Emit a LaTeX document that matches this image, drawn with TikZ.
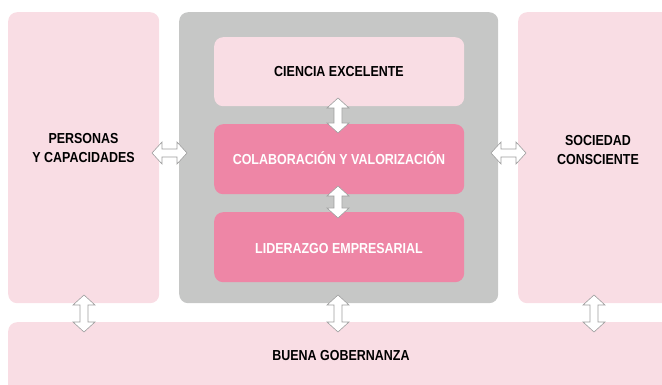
\documentclass[tikz,border=0pt]{standalone}
\usepackage{fontspec}
\setmainfont{Liberation Sans}[FakeStretch=0.86]
\definecolor{lpink}{HTML}{F9DDE4}
\definecolor{mpink}{HTML}{EE86A6}
\definecolor{cgray}{HTML}{C6C7C6}
\definecolor{agray}{HTML}{9E9E9E}
\tikzset{
  box/.style={rectangle, rounded corners=9pt, anchor=north west, inner sep=0pt},
  lbox/.style={box, fill=lpink},
  gbox/.style={box, fill=cgray},
  pbox/.style={box, fill=mpink},
  lbl/.style={font=\bfseries\fontsize{14.5}{18.5}\selectfont, align=center, text=black},
  wlbl/.style={lbl, text=white},
  pics/dblarrow/.style={code={
    \draw[agray, fill=white, line width=0.6pt, line join=miter]
      (-#1/2,0) -- (-#1/2+10,11) -- (-#1/2+10,4) -- (#1/2-10,4) -- (#1/2-10,11)
      -- (#1/2,0) -- (#1/2-10,-11) -- (#1/2-10,-4) -- (-#1/2+10,-4) -- (-#1/2+10,-11) -- cycle;
  }}
}
\begin{document}
\begin{tikzpicture}[x=1pt,y=-1pt]
\useasboundingbox (0,0) rectangle (662,385);
\clip (0,0) rectangle (662,385);
% big boxes
\node[lbox, minimum width=151pt, minimum height=291pt] (left) at (8,12) {};
\node[gbox, minimum width=319pt, minimum height=291pt] (center) at (179,12) {};
\node[lbox, minimum width=170pt, minimum height=291pt] (right) at (518,12) {};
\node[lbox, minimum width=670pt, minimum height=80pt] (bottom) at (8,322) {};
% inner boxes
\node[lbox, minimum width=250pt, minimum height=69pt] (ciencia) at (214,37) {};
\node[pbox, minimum width=250pt, minimum height=70pt] (colab) at (214,124) {};
\node[pbox, minimum width=250pt, minimum height=70pt] (lider) at (214,212) {};
% texts
\node[lbl] (personas) at (83.5,148) {PERSONAS\\Y CAPACIDADES};
\node[lbl] (sociedad) at (598,150) {SOCIEDAD\\CONSCIENTE};
\node[lbl] (buena) at (341,356) {BUENA GOBERNANZA};
\node[lbl] (cienciat) at (339,71.5) {CIENCIA EXCELENTE};
\node[wlbl] (colabt) at (339,158.5) {COLABORACIÓN Y VALORIZACIÓN};
\node[wlbl] (lidert) at (339,248.5) {LIDERAZGO EMPRESARIAL};
% arrows
\pic at (169.5,153) {dblarrow=35};
\pic at (508.5,153) {dblarrow=35};
\pic[rotate=90] at (338,115.5) {dblarrow=35};
\pic[rotate=90] at (338,202) {dblarrow=32};
\pic[rotate=90] at (84,313.5) {dblarrow=37};
\pic[rotate=90] at (338,313.5) {dblarrow=37};
\pic[rotate=90] at (594,313.5) {dblarrow=37};
\end{tikzpicture}
\end{document}
